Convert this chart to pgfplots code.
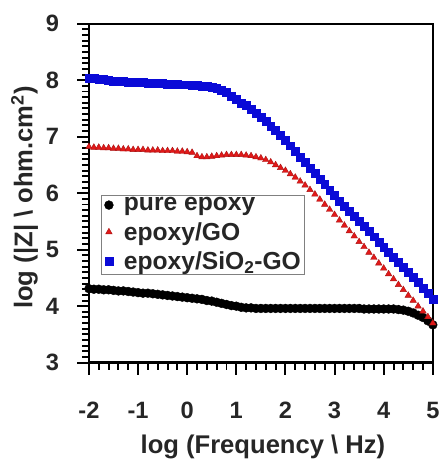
\documentclass[border=0pt]{standalone}
\usepackage{fontspec}
\setmainfont{Liberation Sans}
\usepackage{pgfplots}
\pgfplotsset{compat=1.18}
\usetikzlibrary{calc}

\definecolor{sioblue}{RGB}{10,10,215}
\definecolor{gored}{RGB}{225,25,25}
\definecolor{goedge}{RGB}{170,20,20}

\pgfplotsset{
  legmark/.style={legend image code/.code={%
    \path (0bp,0bp) (20bp,0bp);
    \draw[##1] plot coordinates {(7bp,0bp)};}},
}

\pgfplotstableread{
x y
-2.0 4.31
-1.9 4.30
-1.8 4.30
-1.7 4.29
-1.6 4.29
-1.5 4.28
-1.4 4.27
-1.3 4.27
-1.2 4.26
-1.1 4.25
-1.0 4.24
-0.9 4.23
-0.8 4.23
-0.7 4.22
-0.6 4.21
-0.5 4.20
-0.4 4.19
-0.3 4.18
-0.2 4.17
-0.1 4.16
0.0 4.15
0.1 4.14
0.2 4.13
0.3 4.12
0.4 4.10
0.5 4.09
0.6 4.07
0.7 4.05
0.8 4.03
0.9 4.01
1.0 4.00
1.1 3.98
1.2 3.97
1.3 3.97
1.4 3.96
1.5 3.96
1.6 3.96
1.7 3.96
1.8 3.96
1.9 3.96
2.0 3.96
2.1 3.96
2.2 3.96
2.3 3.96
2.4 3.96
2.5 3.96
2.6 3.96
2.7 3.96
2.8 3.96
2.9 3.96
3.0 3.96
3.1 3.96
3.2 3.96
3.3 3.96
3.4 3.96
3.5 3.96
3.6 3.95
3.7 3.95
3.8 3.95
3.9 3.95
4.0 3.95
4.1 3.95
4.2 3.95
4.3 3.94
4.4 3.93
4.5 3.91
4.6 3.88
4.7 3.84
4.8 3.80
4.9 3.74
5.0 3.67
}\pureepoxy

\pgfplotstableread{
x y
-2.0 6.82
-1.9 6.81
-1.8 6.81
-1.7 6.80
-1.6 6.80
-1.5 6.79
-1.4 6.79
-1.3 6.78
-1.2 6.78
-1.1 6.77
-1.0 6.77
-0.9 6.77
-0.8 6.76
-0.7 6.76
-0.6 6.76
-0.5 6.75
-0.4 6.75
-0.3 6.75
-0.2 6.74
-0.1 6.74
0.0 6.73
0.1 6.72
0.2 6.66
0.3 6.64
0.4 6.64
0.5 6.65
0.6 6.66
0.7 6.67
0.8 6.68
0.9 6.68
1.0 6.68
1.1 6.68
1.2 6.67
1.3 6.66
1.4 6.64
1.5 6.62
1.6 6.59
1.7 6.55
1.8 6.50
1.9 6.45
2.0 6.40
2.1 6.34
2.2 6.28
2.3 6.21
2.4 6.14
2.5 6.06
2.6 5.98
2.7 5.89
2.8 5.80
2.9 5.71
3.0 5.62
3.1 5.52
3.2 5.43
3.3 5.33
3.4 5.24
3.5 5.14
3.6 5.05
3.7 4.95
3.8 4.86
3.9 4.76
4.0 4.67
4.1 4.57
4.2 4.48
4.3 4.38
4.4 4.29
4.5 4.19
4.6 4.10
4.7 4.00
4.8 3.91
4.9 3.81
5.0 3.70
}\epoxygo

\pgfplotstableread{
x y
-2.0 8.04
-1.9 8.03
-1.8 8.02
-1.7 8.01
-1.6 8.00
-1.5 7.99
-1.4 7.99
-1.3 7.98
-1.2 7.97
-1.1 7.97
-1.0 7.96
-0.9 7.96
-0.8 7.95
-0.7 7.95
-0.6 7.94
-0.5 7.94
-0.4 7.93
-0.3 7.93
-0.2 7.93
-0.1 7.92
0.0 7.92
0.1 7.91
0.2 7.91
0.3 7.90
0.4 7.89
0.5 7.88
0.6 7.86
0.7 7.83
0.8 7.78
0.9 7.72
1.0 7.66
1.1 7.60
1.2 7.55
1.3 7.48
1.4 7.42
1.5 7.35
1.6 7.27
1.7 7.19
1.8 7.11
1.9 7.03
2.0 6.94
2.1 6.84
2.2 6.74
2.3 6.64
2.4 6.55
2.5 6.45
2.6 6.35
2.7 6.25
2.8 6.16
2.9 6.06
3.0 5.96
3.1 5.86
3.2 5.77
3.3 5.68
3.4 5.59
3.5 5.50
3.6 5.41
3.7 5.32
3.8 5.23
3.9 5.14
4.0 5.05
4.1 4.96
4.2 4.87
4.3 4.78
4.4 4.69
4.5 4.60
4.6 4.51
4.7 4.42
4.8 4.32
4.9 4.23
5.0 4.13
}\epoxysiogo

\begin{document}
\begin{tikzpicture}
\begin{axis}[
  name=ax,
  scale only axis,
  width=348bp, height=343bp,
  xmin=-2, xmax=5, ymin=3, ymax=9,
  axis line style={line width=2.4bp, black},
  tick pos=left,
  tick align=outside,
  major tick length=12bp, minor tick length=7bp,
  xtick style={draw=black, line width=2bp},
  ytick style={draw=black, line width=2bp},
  minor x tick num=4, minor y tick num=9,
  xtick={-2,-1,0,1,2,3,4,5},
  xticklabels={-2,-1,0,1,2,3,4,5},
  ytick={3,4,5,6,7,8,9},
  yticklabels={3,4,5,6,7,8,9},
  tick label style={font=\fontsize{24}{28}\selectfont\bfseries, text=black!85},
  xticklabel style={anchor=center, yshift=-36bp},
  yticklabel style={anchor=center, xshift=-25bp},
  xlabel={log (Frequency \textbackslash\ Hz)},
  ylabel={log (|Z| \textbackslash\ ohm.cm\textsuperscript{2})},
  label style={font=\fontsize{26}{30}\selectfont\bfseries, text=black!85},
  xlabel style={at={(axis description cs:0.506,-0.248)}, anchor=center},
  ylabel style={at={(axis description cs:-0.187,0.487)}, anchor=center},
  legend style={at={(axis description cs:0.034,0.496)}, anchor=north west,
    draw=black!50, fill=white,
    font=\fontsize{25}{26}\selectfont\bfseries, text=black!85,
    inner sep=1bp, row sep=6bp},
  legend cell align=left,
]
\addplot[only marks, mark=*, mark size=4.5bp, black, legmark] table {\pureepoxy};
\addlegendentry{pure epoxy}
\addplot[only marks, mark=triangle*, mark size=3.8bp, draw=goedge, fill=gored, line width=0.4bp, legmark] table {\epoxygo};
\addlegendentry{epoxy/GO}
\addplot[only marks, mark=square*, mark size=4bp, sioblue, legmark] table {\epoxysiogo};
\addlegendentry{epoxy/SiO\textsubscript{2}-GO}
\end{axis}
\path ($(ax.south west)+(-90bp,-95bp)$) rectangle ($(ax.north east)+(7bp,24bp)$);
\end{tikzpicture}
\end{document}
